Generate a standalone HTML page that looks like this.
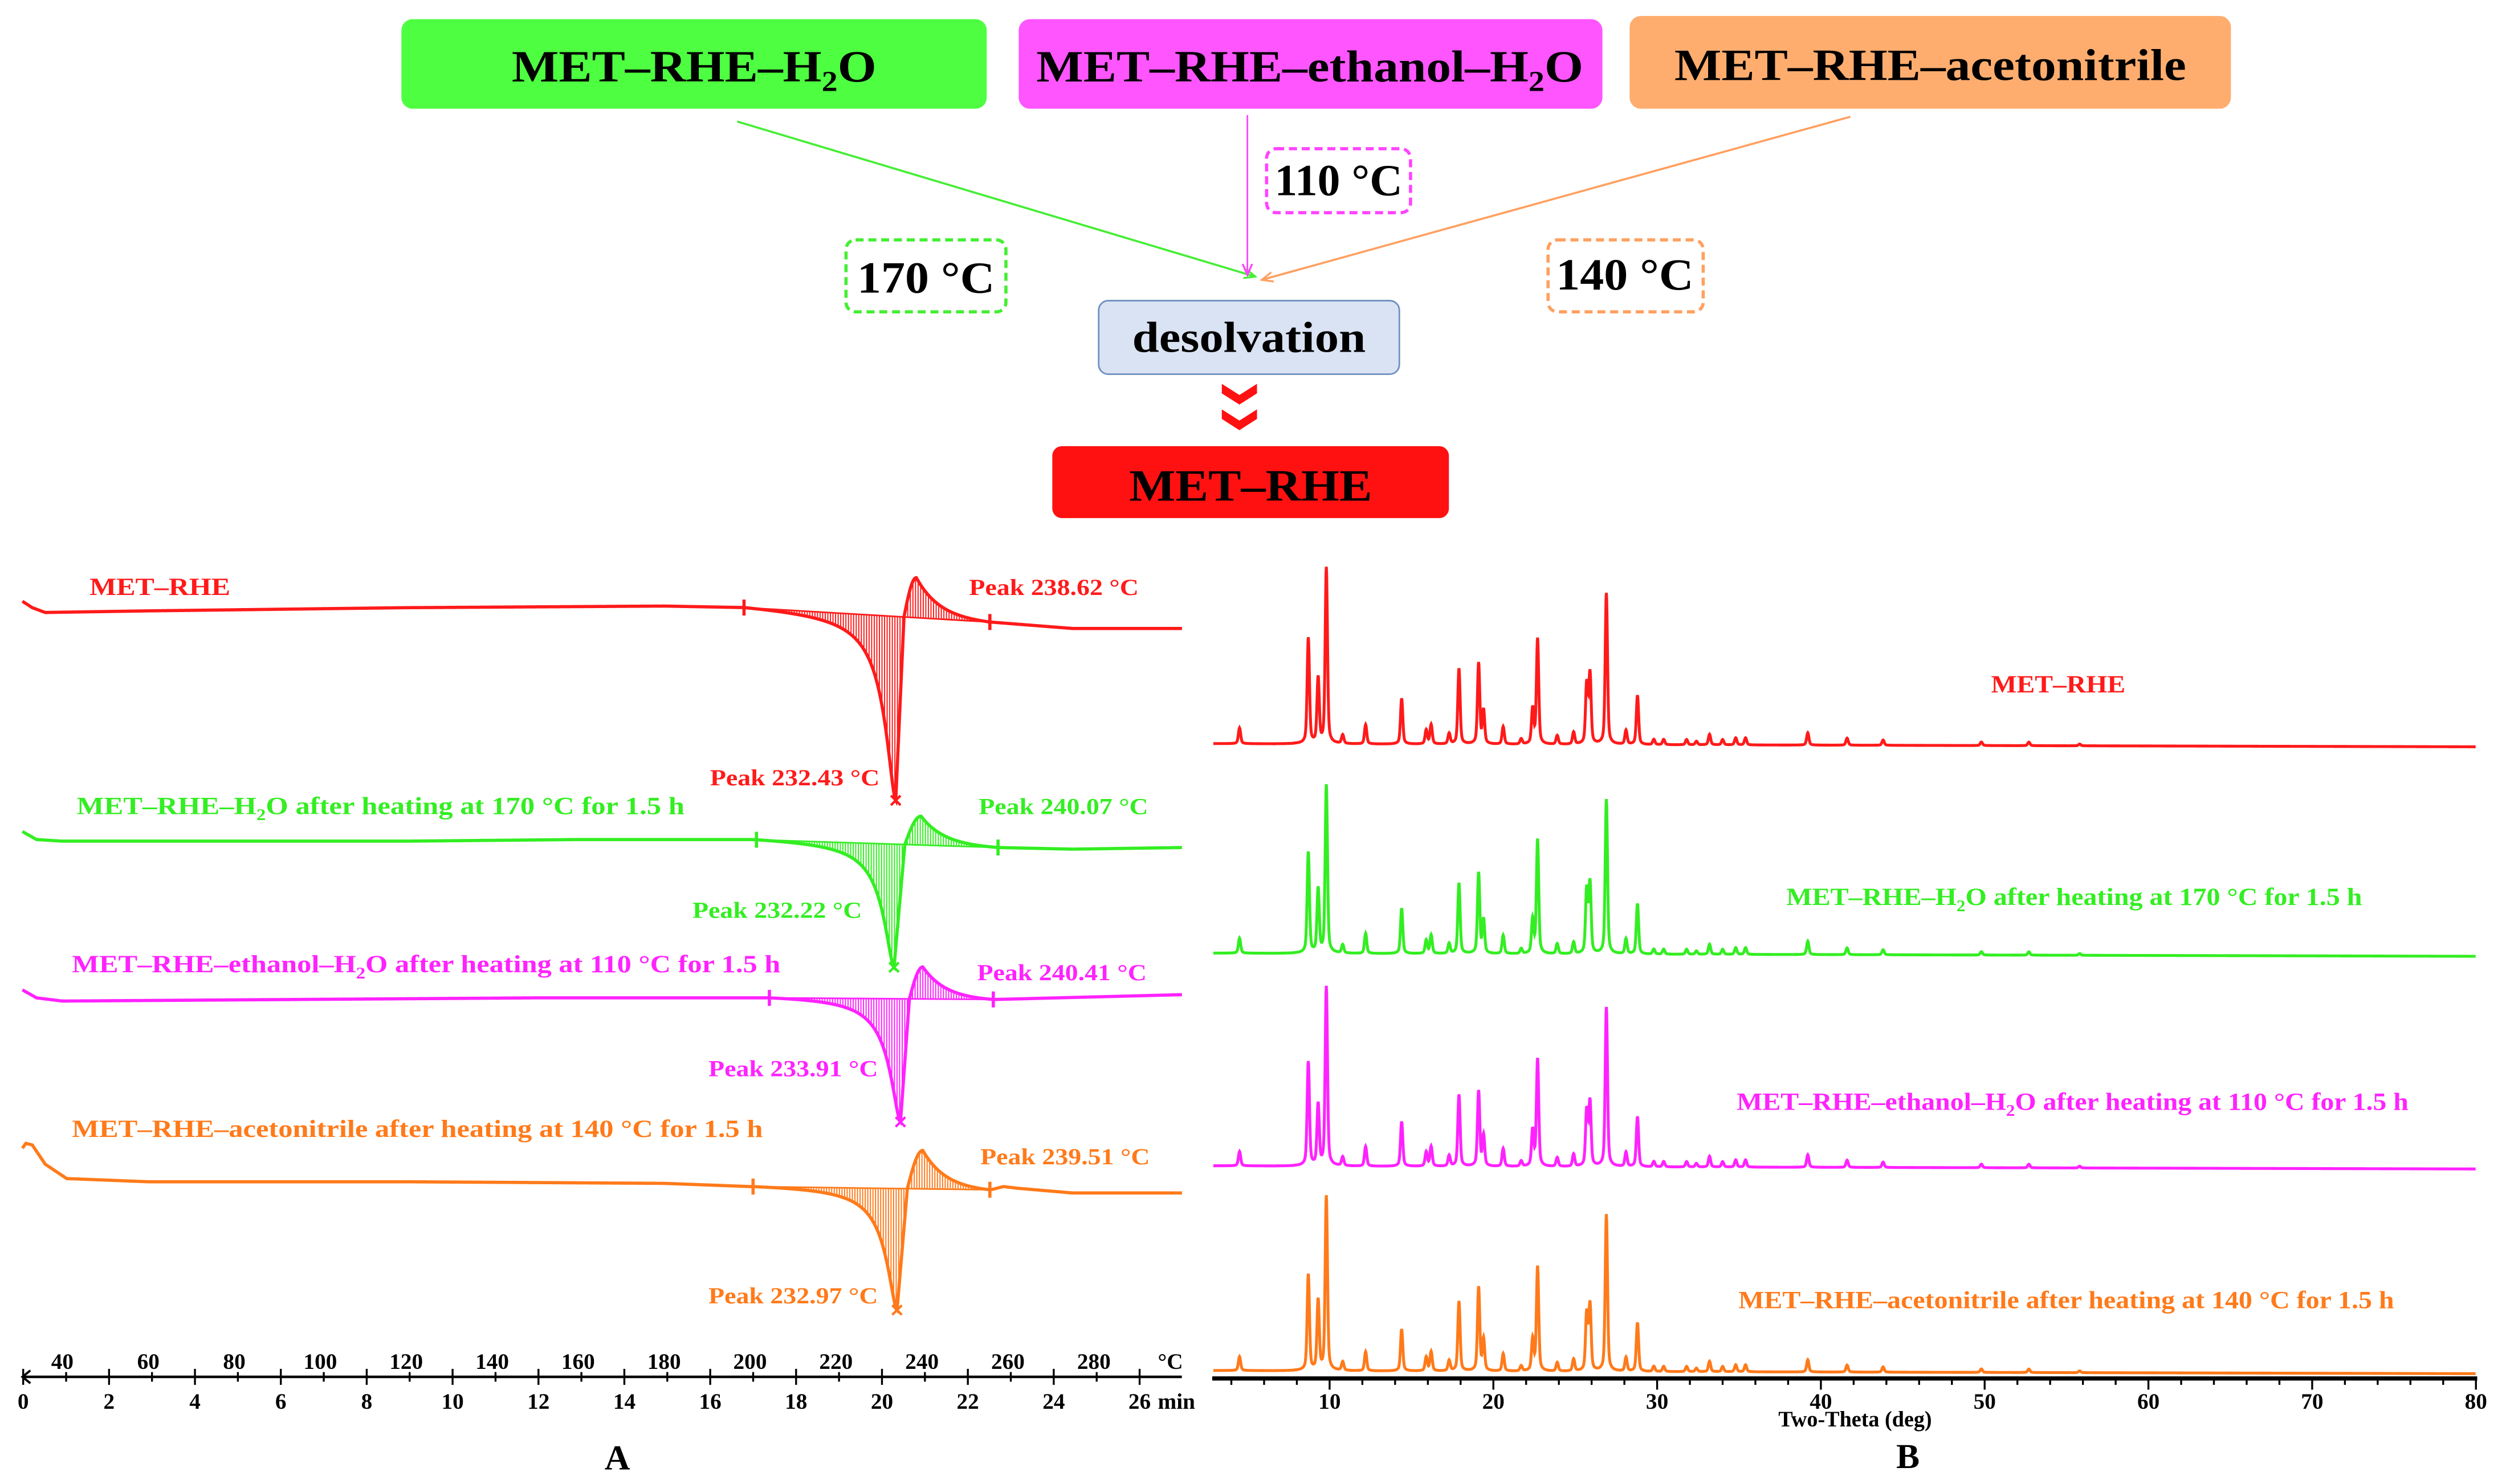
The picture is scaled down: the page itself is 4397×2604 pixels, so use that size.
<!DOCTYPE html>
<html><head><meta charset="utf-8"><title>MET-RHE desolvation DSC and PXRD</title>
<style>
html,body{margin:0;padding:0;background:#fff;}
svg{display:block;}
text{font-family:"Liberation Serif",serif;font-weight:bold;}
</style></head>
<body>
<svg id="chart" width="4397" height="2604" viewBox="0 0 1567 928" preserveAspectRatio="none" xmlns="http://www.w3.org/2000/svg">
<defs>
<marker id="ag" markerWidth="8" markerHeight="8" refX="7" refY="4" orient="auto" markerUnits="userSpaceOnUse"><path d="M0,1 L7,4 L0,7" fill="none" stroke="#44ee33" stroke-width="1.2"/></marker>
<marker id="am" markerWidth="8" markerHeight="8" refX="7" refY="4" orient="auto" markerUnits="userSpaceOnUse"><path d="M0,1 L7,4 L0,7" fill="none" stroke="#ff44ff" stroke-width="1.2"/></marker>
<marker id="ao" markerWidth="8" markerHeight="8" refX="7" refY="4" orient="auto" markerUnits="userSpaceOnUse"><path d="M0,1 L7,4 L0,7" fill="none" stroke="#ffa060" stroke-width="1.2"/></marker>
</defs>
<g>
<rect x="251" y="12" width="366" height="56" rx="7" fill="#4dff40"/>
<text x="434" y="51" text-anchor="middle" font-size="28" textLength="228" lengthAdjust="spacingAndGlyphs">MET–RHE–H<tspan font-size="18" dy="6">2</tspan><tspan dy="-6">O</tspan></text>
<rect x="637" y="12" width="365" height="56" rx="7" fill="#ff55ff"/>
<text x="819" y="51" text-anchor="middle" font-size="28" textLength="342" lengthAdjust="spacingAndGlyphs">MET–RHE–ethanol–H<tspan font-size="18" dy="6">2</tspan><tspan dy="-6">O</tspan></text>
<rect x="1019" y="10" width="376" height="58" rx="7" fill="#ffad6e"/>
<text x="1207" y="50" text-anchor="middle" font-size="28" textLength="320" lengthAdjust="spacingAndGlyphs">MET–RHE–acetonitrile</text>
<line x1="461" y1="76" x2="785" y2="173" stroke="#44ee33" stroke-width="1.3" marker-end="url(#ag)"/>
<line x1="780" y1="72" x2="780" y2="172" stroke="#ff44ff" stroke-width="1" marker-end="url(#am)"/>
<line x1="1157" y1="73" x2="789" y2="175" stroke="#ffa060" stroke-width="1.3" marker-end="url(#ao)"/>
<rect x="792" y="93" width="90" height="40" rx="6" fill="none" stroke="#ff44ff" stroke-width="2" stroke-dasharray="5,3"/>
<text x="837" y="122" text-anchor="middle" font-size="28" textLength="80" lengthAdjust="spacingAndGlyphs">110 °C</text>
<rect x="529" y="150" width="100" height="45" rx="6" fill="none" stroke="#44ee33" stroke-width="2" stroke-dasharray="5,3"/>
<text x="579" y="183" text-anchor="middle" font-size="28" textLength="86" lengthAdjust="spacingAndGlyphs">170 °C</text>
<rect x="968" y="150" width="97" height="45" rx="6" fill="none" stroke="#ffa060" stroke-width="2" stroke-dasharray="5,3"/>
<text x="1016" y="181" text-anchor="middle" font-size="28" textLength="86" lengthAdjust="spacingAndGlyphs">140 °C</text>
<rect x="687" y="188" width="188" height="46" rx="6" fill="#dae3f3" stroke="#7090c0" stroke-width="1"/>
<text x="781" y="220" text-anchor="middle" font-size="27" textLength="146" lengthAdjust="spacingAndGlyphs">desolvation</text>
<path d="M764,240 L775,247 L786,240 L786,246 L775,253 L764,246 Z" fill="#ff1111"/>
<path d="M764,256 L775,263 L786,256 L786,262 L775,269 L764,262 Z" fill="#ff1111"/>
<rect x="658" y="279" width="248" height="45" rx="6" fill="#ff1111"/>
<text x="782" y="313" text-anchor="middle" font-size="28" textLength="152" lengthAdjust="spacingAndGlyphs">MET–RHE</text>
</g>
<g id="panelA"></g>
<g id="panelB"></g>
</svg>
<script>
// ---------- DSC data (panel A) ----------
const dscColors = ['#ff1a1a', '#33ee22', '#ff22ff', '#ff7a1a'];
const dscOnsetT = [198.6, 201.5, 204.5, 200.7];
const dscEndoT = [233.9, 233.5, 235.0, 234.2];
const dscExoT = [238.7, 239.8, 240.2, 240.2];
const dscEndT = [255.8, 257.7, 256.6, 255.8];
const dscEndoDepth = [115, 77, 77, 76];
const dscExoHeight = [25, 18, 20, 24];
const dscBaseRed = [[30.7,376],[33,380],[36,383],[60,382],[120,380],[180,379],[200,380],[256,389],[275,393],[300.5,393]];
const dscBaseGreen = [[30.7,520],[34,525],[40,526],[120,526],[160,525],[200,525],[258,530],[275,531],[300.5,530]];
const dscBaseMagenta = [[30.7,619],[34,624],[40,626],[150,624],[205,624],[257,625],[300.5,622]];
const dscBaseOrange = [[30.7,718],[31.5,715],[33,716],[36,728],[41,737],[60,739],[120,739],[180,740],[200,742],[256,744],[259,742],[262,743],[275,746],[300.5,746]];
const dscPeakEndoLabels = ['Peak  232.43 °C', 'Peak  232.22 °C', 'Peak  233.91 °C', 'Peak  232.97 °C'];
const dscPeakExoLabels = ['Peak  238.62 °C', 'Peak  240.07 °C', 'Peak  240.41 °C', 'Peak  239.51 °C'];
const dscTitles = ['MET–RHE', 'MET–RHE–H|2|O after heating at 170 °C for 1.5 h', 'MET–RHE–ethanol–H|2|O after heating at 110 °C for 1.5 h', 'MET–RHE–acetonitrile after heating at 140 °C for 1.5 h'];
const timeTicks = [0,2,4,6,8,10,12,14,16,18,20,22,24,26];
const tempTicks = [40,60,80,100,120,140,160,180,200,220,240,260,280];

// ---------- PXRD data (panel B) ----------
const xrdColors = ['#ff1a1a', '#33ee22', '#ff22ff', '#ff7a1a'];
const xrdPos = [4.5,8.7,9.3,9.8,10.8,12.2,14.4,15.9,16.2,17.3,17.9,19.1,19.4,20.6,21.7,22.4,22.7,23.9,24.9,25.7,25.9,26.9,28.1,28.8,29.8,30.4,31.8,32.4,33.2,34.0,34.8,35.4,39.2,41.6,43.8,49.8,52.7,55.8];
const xrdRed = [9,60,37,100,5,11,26,8,11,6,43,46,19,10,3,20,60,5,7,34,40,86,8,28,3,3,3,2,6,3,4,4,7,4,3,2,2,1];
const xrdGreen = [9,60,38,100,5,12,27,8,11,6,42,48,20,11,3,20,68,6,7,38,42,92,9,30,3,3,3,2,6,3,4,4,8,4,3,2,2,1];
const xrdMagenta = [8,58,34,100,5,11,25,8,11,6,40,42,17,10,3,20,60,5,7,31,36,89,8,28,3,3,3,2,6,3,4,4,7,4,3,2,2,1];
const xrdOrange = [8,55,40,100,5,11,24,8,11,6,40,48,18,10,3,18,60,5,7,33,38,90,8,28,3,3,3,2,6,3,4,4,7,4,3,2,2,1];
const xrdTicks = [10,20,30,40,50,60,70,80];
const xrdLabels = ['MET–RHE', 'MET–RHE–H|2|O after heating at 170 °C for 1.5 h', 'MET–RHE–ethanol–H|2|O after heating at 110 °C for 1.5 h', 'MET–RHE–acetonitrile after heating at 140 °C for 1.5 h'];

const NS = 'http://www.w3.org/2000/svg';
function el(tag, parent, attrs) {
  const e = document.createElementNS(NS, tag);
  for (const k in attrs) e.setAttribute(k, attrs[k]);
  parent.appendChild(e);
  return e;
}
function richText(parent, x, y, str, size, fill, len) {
  const t = el('text', parent, {x: x, y: y, 'font-size': size, fill: fill});
  if (len) { t.setAttribute('textLength', len); t.setAttribute('lengthAdjust', 'spacingAndGlyphs'); }
  const parts = str.split('|');
  parts.forEach((p, i) => {
    const s = document.createElementNS(NS, 'tspan');
    s.textContent = p;
    if (i === 1) { s.setAttribute('font-size', size * 0.65); s.setAttribute('dy', size * 0.25); }
    if (i === 2) { s.setAttribute('dy', -size * 0.25); }
    t.appendChild(s);
  });
  return t;
}

// ===== Panel A =====
const A = document.getElementById('panelA');
const tx = T => 39 + (T - 40) * 2.6875;
const mx = m => 14.5 + m * 26.85;
const dscBases = [dscBaseRed, dscBaseGreen, dscBaseMagenta, dscBaseOrange];
function baseAt(b, T) {
  if (T <= b[0][0]) return b[0][1];
  for (let i = 1; i < b.length; i++) if (T <= b[i][0]) {
    const f = (T - b[i-1][0]) / (b[i][0] - b[i-1][0]);
    return b[i-1][1] + f * (b[i][1] - b[i-1][1]);
  }
  return b[b.length-1][1];
}
function dscSignal(s, T) {
  const on = dscOnsetT[s], ep = dscEndoT[s], xp = dscExoT[s], en = dscEndT[s];
  const d = dscEndoDepth[s], h = dscExoHeight[s];
  const mid = ep + (xp - ep) * 0.4;
  if (T < on || T > en) return 0;
  if (T <= ep) {
    const u = ep - T;
    const e0 = 1 / (1 + ((ep - on) / 3.2) ** 1.6);
    const v = 1 / (1 + (u / 3.2) ** 1.6);
    return d * Math.max(0, v - e0) / (1 - e0);
  }
  if (T <= mid) return d * (1 - (T - ep) / (mid - ep));
  if (T <= xp) { const f = (T - mid) / (xp - mid); return -h * Math.sin(f * Math.PI / 2); }
  const tau = 5.5;
  const e1 = Math.exp(-(en - xp) / tau);
  const u = T - xp;
  return -h * (Math.exp(-u / tau) * (1 + 0.15 * Math.min(u, 3)) / (1 + 0.15 * Math.min(u, 3)) - e1) / (1 - e1);
}
const endoLabelPos = [[444,491],[433,574],[443,673],[443,815]];
for (let s = 0; s < 4; s++) {
  const g = el('g', A, {});
  
  
  const b = dscBases[s];
  const bOn = baseAt(b, dscOnsetT[s]), bEn = baseAt(b, dscEndT[s]);
  const chord = T => bOn + (bEn - bOn) * (T - dscOnsetT[s]) / (dscEndT[s] - dscOnsetT[s]);
  const hatch = el('g', g, {stroke: dscColors[s], 'stroke-width': 0.7});
  
  
  let pts = [];
  for (let T = 30.7; T <= 300.5; T += 0.1) {
    const inPk = T >= dscOnsetT[s] && T <= dscEndT[s];
    const y = inPk ? chord(T) + dscSignal(s, T) : baseAt(b, T);
    pts.push(tx(T).toFixed(2) + ',' + y.toFixed(2));
  }
  for (let T = dscOnsetT[s] + 0.3; T < dscEndT[s]; T += 0.6) {
    const y0 = chord(T), y1 = y0 + dscSignal(s, T);
    el('line', hatch, {x1: tx(T), x2: tx(T), y1: y0, y2: y1});
  }
  el('line', g, {x1: tx(dscOnsetT[s]), y1: bOn, x2: tx(dscEndT[s]), y2: bEn, stroke: dscColors[s], 'stroke-width': 1});
  const line = el('polyline', g, {points: pts.join(' '), fill: 'none', stroke: dscColors[s], 'stroke-width': 2});
  
  
  [dscOnsetT[s], dscEndT[s]].forEach(T => {
    const y = T === dscOnsetT[s] ? bOn : bEn;
    el('line', g, {x1: tx(T), x2: tx(T), y1: y - 5, y2: y + 5, stroke: dscColors[s], 'stroke-width': 2});
  });
  const ey = chord(dscEndoT[s]) + dscEndoDepth[s];
  el('path', g, {d: `M${tx(dscEndoT[s])-3},${ey-3} l6,6 M${tx(dscEndoT[s])+3},${ey-3} l-6,6`, stroke: dscColors[s], 'stroke-width': 1.5});
  const lx = richText(g, endoLabelPos[s][0], endoLabelPos[s][1], dscPeakEndoLabels[s], 14.5, dscColors[s], 106);
  
  
}
const exoLabelPos = [[606,372],[612,509],[611,613],[613,728]];
const titlePos = [[56,372,88],[48,509,380],[45,608,443],[45,711,432]];
for (let s = 0; s < 4; s++) {
  const t = richText(A, exoLabelPos[s][0], exoLabelPos[s][1], dscPeakExoLabels[s], 14.5, dscColors[s], 106);
  
  
  const tt = richText(A, titlePos[s][0], titlePos[s][1], dscTitles[s], 15.5, dscColors[s], titlePos[s][2]);
  
  
}
const axA = el('g', A, {});


el('line', axA, {x1: 14, y1: 861, x2: 739, y2: 861, stroke: '#000', 'stroke-width': 1.6});
el('path', axA, {d: 'M19,857 L14,861 L19,865', fill: 'none', stroke: '#000', 'stroke-width': 1.4});
for (let m = 0; m <= 26; m++) {
  el('line', axA, {x1: mx(m), x2: mx(m), y1: m % 2 === 0 ? 856 : 858, y2: m % 2 === 0 ? 866 : 864, stroke: '#000', 'stroke-width': 1.2});
}
timeTicks.forEach(m => {
  const t = el('text', axA, {x: mx(m), y: 881, 'font-size': 14, 'text-anchor': 'middle'});
  t.textContent = String(m);
  
  
});
const minT = el('text', axA, {x: 724, y: 881, 'font-size': 14});
minT.textContent = 'min';
tempTicks.forEach(T => {
  const t = el('text', axA, {x: tx(T), y: 856, 'font-size': 14, 'text-anchor': 'middle'});
  t.textContent = String(T);
  
  
});
const degC = el('text', axA, {x: 724, y: 856, 'font-size': 14});
degC.textContent = '°C';
const labA = el('text', A, {x: 386, y: 919, 'font-size': 22, 'text-anchor': 'middle'});
labA.textContent = 'A';



// ===== Panel B =====
const B = document.getElementById('panelB');
const bx = t => 729 + t * 10.24;
const xrdSeries = [xrdRed, xrdGreen, xrdMagenta, xrdOrange];
const xrdBaseY = [465, 596, 729, 857];
const xrdScale = [110, 105, 112, 109];
for (let s = 0; s < 4; s++) {
  const pts = [];
  for (let t = 2.9; t <= 80; t += 0.02) {
    let v = 0;
    for (let i = 0; i < xrdPos.length; i++) {
      const dx = t - xrdPos[i];
      if (Math.abs(dx) > 2) continue;
      v += xrdSeries[s][i] * (0.75 * Math.exp(-dx * dx / (2 * 0.065 * 0.065)) + 0.25 / (1 + (dx / 0.12) ** 2));
    }
    const y = xrdBaseY[s] + (t - 3) / 77 * 2 - v / 100 * xrdScale[s];
    pts.push(bx(t).toFixed(2) + ',' + y.toFixed(2));
  }
  const p = el('polyline', B, {points: pts.join(' '), fill: 'none', stroke: xrdColors[s], 'stroke-width': 1.8});
  
  
}
const xrdLabelPos = [[1245,433,84],[1117,566,360],[1086,694,420],[1087,818,410]];
for (let s = 0; s < 4; s++) {
  const t = richText(B, xrdLabelPos[s][0], xrdLabelPos[s][1], xrdLabels[s], 15.5, xrdColors[s], xrdLabelPos[s][2]);
  
  
}
const axB = el('g', B, {});


el('line', axB, {x1: 758, y1: 862, x2: 1549, y2: 862, stroke: '#000', 'stroke-width': 2.6});
for (let t = 4; t <= 80; t += 2) {
  el('line', axB, {x1: bx(t), x2: bx(t), y1: 862, y2: t % 10 === 0 ? 869 : 866, stroke: '#000', 'stroke-width': 1.2});
}
xrdTicks.forEach(t => {
  const e = el('text', axB, {x: bx(t), y: 881, 'font-size': 14, 'text-anchor': 'middle'});
  e.textContent = String(t);
  
  
});
const xt = el('text', axB, {x: 1160, y: 892, 'font-size': 14, 'text-anchor': 'middle', textLength: 96, lengthAdjust: 'spacingAndGlyphs'});
xt.textContent = 'Two-Theta (deg)';


const labB = el('text', B, {x: 1193, y: 918, 'font-size': 22, 'text-anchor': 'middle'});
labB.textContent = 'B';


</script>
</body></html>
